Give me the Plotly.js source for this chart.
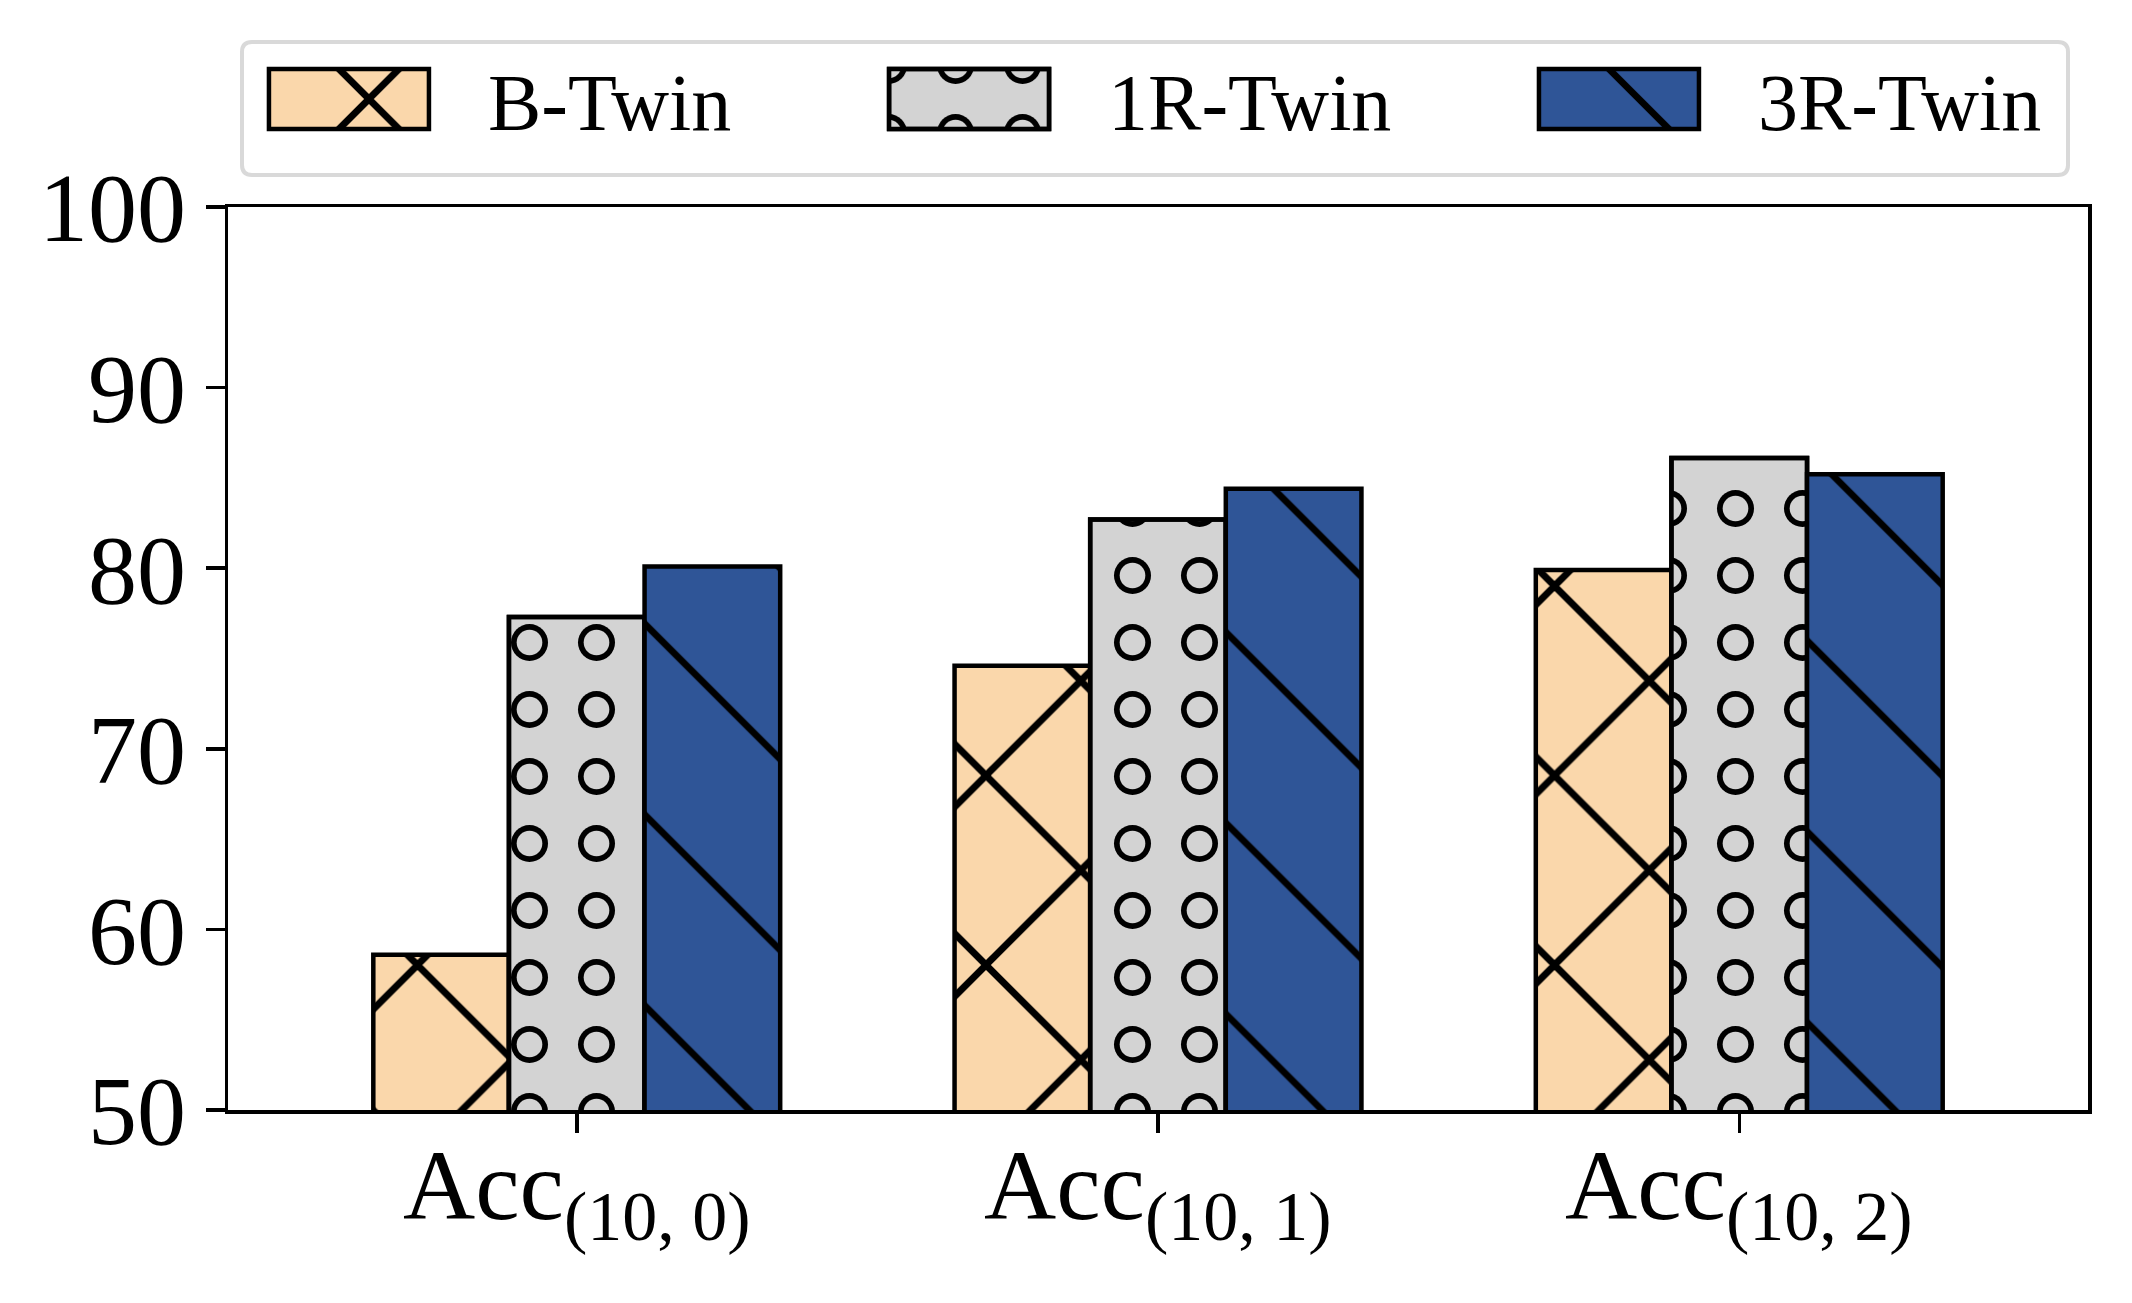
<!DOCTYPE html>
<html>
<head>
<meta charset="utf-8">
<script src="https://cdn.plot.ly/plotly-3.0.1.min.js"></script>
<style>
  html, body { margin: 0; padding: 0; background: #fff; }
  #chart { width: 2132px; height: 1303px; }
</style>
</head>
<body>
<div id="chart"></div>
<script>
// chart data
var categories = ['(10, 0)', '(10, 1)', '(10, 2)'];
var tickLabels = categories.map(function(c) { return 'Acc<sub>' + c + '</sub>'; });
var seriesNames = ['B-Twin', '1R-Twin', '3R-Twin'];
var bTwin = [58.6, 74.6, 79.9];
var r1Twin = [77.3, 82.7, 86.1];
var r3Twin = [80.1, 84.4, 85.2];
var yTicks = [50, 60, 70, 80, 90, 100];

var serif = 'Liberation Serif, Times New Roman, serif';
var edge = { color: '#000', width: 4.5 };

var trace1 = {
    type: 'bar', name: seriesNames[0], x: categories, y: bTwin,
    offsetgroup: 'b', legend: 'legend',
    marker: {
        color: '#FAD7AB', line: edge,
        pattern: { shape: 'x', size: 134, solidity: 0.1, fgcolor: '#000', bgcolor: '#FAD7AB' }
    }
};

// rings: black dots, then smaller grey dots drawn on top
var trace2 = {
    type: 'bar', name: seriesNames[1], x: categories, y: r1Twin,
    offsetgroup: 'r1', legend: 'legend2',
    marker: {
        color: '#D3D3D3', line: edge,
        pattern: { shape: '.', size: 67, solidity: 0.24, fgcolor: '#000', bgcolor: '#D3D3D3' }
    }
};
var trace2b = {
    type: 'bar', name: seriesNames[1], x: categories, y: r1Twin,
    offsetgroup: 'r1', showlegend: false, hoverinfo: 'skip',
    marker: {
        color: 'rgba(0,0,0,0)', line: edge,
        pattern: { shape: '.', size: 67, solidity: 0.115, fgcolor: '#D3D3D3', bgcolor: 'rgba(0,0,0,0)' }
    }
};

var trace3 = {
    type: 'bar', name: seriesNames[2], x: categories, y: r3Twin,
    offsetgroup: 'r3', legend: 'legend3',
    marker: {
        color: '#2F5597', line: edge,
        pattern: { shape: '\\', size: 135, solidity: 0.05, fgcolor: '#000', bgcolor: '#2F5597' }
    }
};

var data = [trace1, trace2, trace2b, trace3];

function legendAt(x) {
    return {
        orientation: 'h',
        x: x, xanchor: 'left',
        y: 1.1196, yanchor: 'middle',
        font: { family: serif, size: 80, color: '#000' },
        bgcolor: 'rgba(0,0,0,0)', borderwidth: 0,
        itemwidth: 228
    };
}

var xLabels = categories.map(function(c, i) {
    return {
        x: c, xref: 'x', y: 0, yref: 'paper',
        yanchor: 'top', yshift: -18, showarrow: false,
        text: tickLabels[i],
        font: { family: serif, size: 100, color: '#000' }
    };
});

var layout = {
    width: 2132,
    height: 1303,
    margin: { l: 228, r: 44, t: 207, b: 193 },
    paper_bgcolor: '#fff',
    plot_bgcolor: '#fff',
    font: { family: serif, color: '#000' },
    barmode: 'group',
    bargap: 0.3,
    bargroupgap: 0,
    showlegend: true,
    legend: legendAt(0.0118),
    legend2: legendAt(0.3452),
    legend3: legendAt(0.6946),
    annotations: xLabels,
    shapes: [{
        // rounded legend frame
        type: 'path', xref: 'paper', yref: 'paper',
        path: 'M 0.0129,1.18272 L 0.98385,1.18272 Q 0.98925,1.18272 0.98925,1.17165' +
              ' L 0.98925,1.04651 Q 0.98925,1.03544 0.98385,1.03544 L 0.0129,1.03544' +
              ' Q 0.00753,1.03544 0.00753,1.04651 L 0.00753,1.17165 Q 0.00753,1.18272 0.0129,1.18272 Z',
        line: { color: '#d9d9d9', width: 4 },
        fillcolor: 'rgba(0,0,0,0)'
    }],
    xaxis: {
        type: 'category',
        range: [-0.6, 2.6],
        showline: true, linecolor: '#000', linewidth: 3.5, mirror: true,
        ticks: 'outside', ticklen: 19, tickwidth: 3.5, tickcolor: '#000',
        showticklabels: false,
        showgrid: false, zeroline: false
    },
    yaxis: {
        range: [50, 100],
        tickvals: yTicks,
        showline: true, linecolor: '#000', linewidth: 3.5, mirror: true,
        ticks: 'outside', ticklen: 19, tickwidth: 3.5, tickcolor: '#000',
        ticklabelstandoff: 0,
        tickfont: { family: serif, size: 98, color: '#000' },
        showgrid: false, zeroline: false
    }
};

var config = { staticPlot: true, displayModeBar: false };

var gd = document.getElementById('chart');
Plotly.newPlot(gd, data, layout, config).then(function() {
    // reuse the bar patterns for wide legend swatches
    var fills = {};
    gd.querySelectorAll('.barlayer g.trace').forEach(function(g) {
        var d = g.__data__;
        var p = g.querySelector('path');
        if (d && d[0] && d[0].trace && p) fills[d[0].trace.index] = p.style.fill;
    });
    gd.querySelectorAll('g.traces').forEach(function(item) {
        var d = item.__data__;
        if (!d || !d[0] || !d[0].trace) return;
        var idx = d[0].trace.index;
        var sym = item.querySelector('.legendpoints path');
        if (!sym) return;
        var layers = idx === 1 ? [1, 2] : [idx];
        var parent = sym.parentNode;
        layers.forEach(function(k, j) {
            var p = j === 0 ? sym : sym.cloneNode(false);
            p.setAttribute('d', 'M-100,-30H60V30H-100Z');
            p.style.fill = fills[k];
            p.style.stroke = '#000';
            p.style.strokeWidth = '4.5px';
            if (j > 0) parent.appendChild(p);
        });
    });
});
</script>
</body>
</html>
